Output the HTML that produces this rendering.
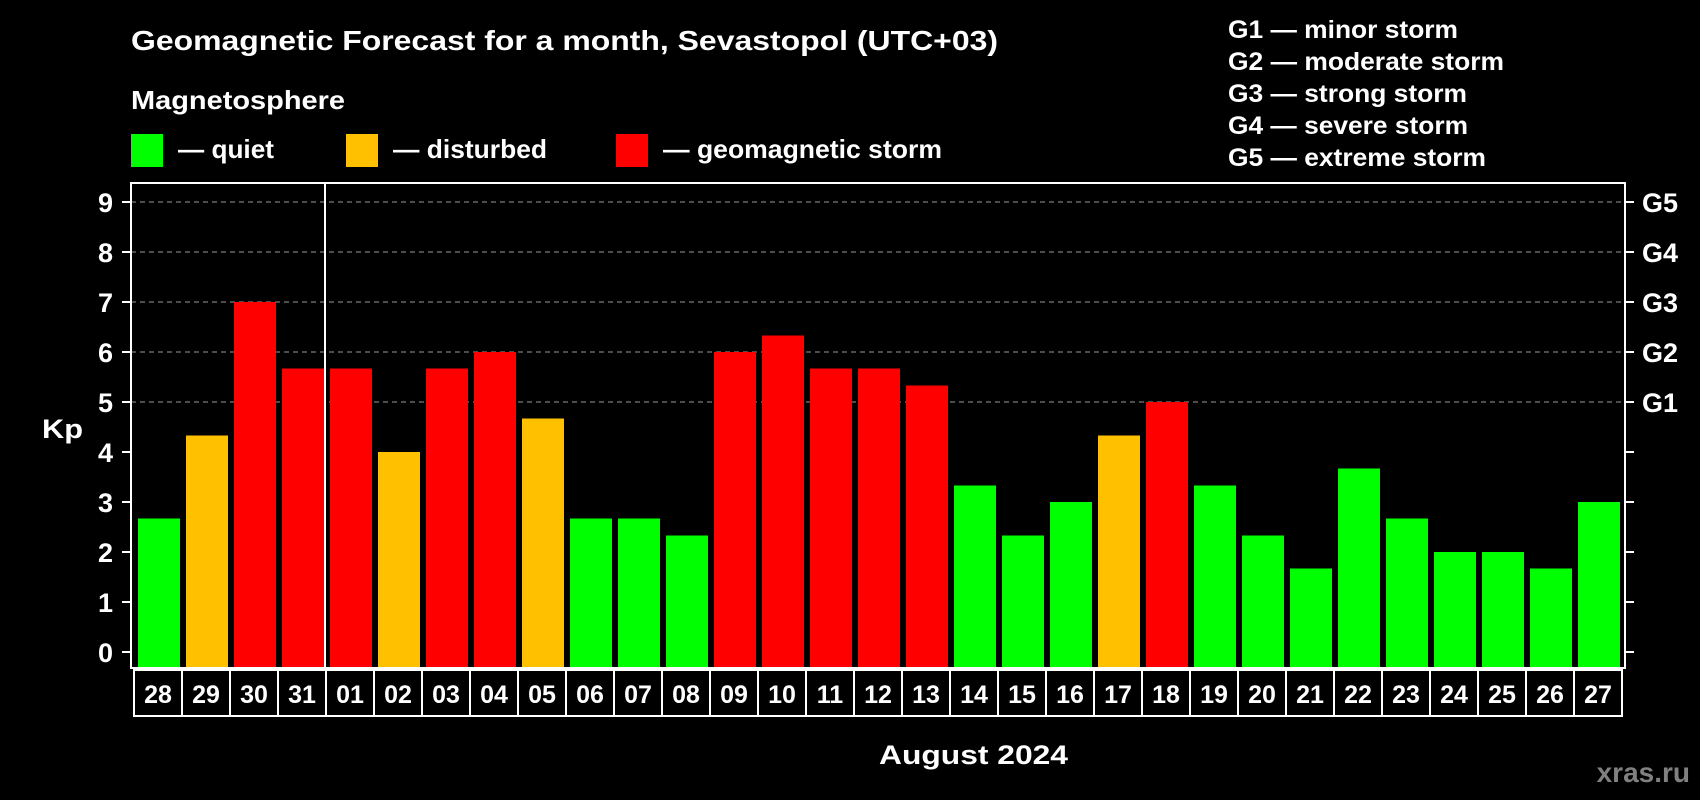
<!DOCTYPE html>
<html><head><meta charset="utf-8"><style>
html,body{margin:0;padding:0;background:#000;}
svg{display:block;font-family:"Liberation Sans",Arial,sans-serif;font-weight:bold;}
</style></head><body>
<svg id="chart" width="1700" height="800" viewBox="0 0 1700 800" xmlns="http://www.w3.org/2000/svg">
<rect x="0" y="0" width="1700" height="800" fill="#000"/>
<text x="131" y="50" font-size="28" fill="#fff" textLength="867" lengthAdjust="spacingAndGlyphs">Geomagnetic Forecast for a month, Sevastopol (UTC+03)</text>
<text x="131" y="109" font-size="26" fill="#fff" textLength="214" lengthAdjust="spacingAndGlyphs">Magnetosphere</text>
<g>
<rect x="131" y="134" width="32" height="33" fill="#00ff00"/>
<text x="178" y="158" font-size="26" fill="#fff" textLength="96" lengthAdjust="spacingAndGlyphs">— quiet</text>
</g>
<g>
<rect x="346" y="134" width="32" height="33" fill="#ffc000"/>
<text x="393" y="158" font-size="26" fill="#fff" textLength="154" lengthAdjust="spacingAndGlyphs">— disturbed</text>
</g>
<g>
<rect x="616" y="134" width="32" height="33" fill="#ff0000"/>
<text x="663" y="158" font-size="26" fill="#fff" textLength="279" lengthAdjust="spacingAndGlyphs">— geomagnetic storm</text>
</g>
<g>
<text x="1228" y="38" font-size="25" fill="#fff" textLength="230" lengthAdjust="spacingAndGlyphs">G1 — minor storm</text>
<text x="1228" y="70" font-size="25" fill="#fff" textLength="276" lengthAdjust="spacingAndGlyphs">G2 — moderate storm</text>
<text x="1228" y="102" font-size="25" fill="#fff" textLength="239" lengthAdjust="spacingAndGlyphs">G3 — strong storm</text>
<text x="1228" y="134" font-size="25" fill="#fff" textLength="240" lengthAdjust="spacingAndGlyphs">G4 — severe storm</text>
<text x="1228" y="166" font-size="25" fill="#fff" textLength="258" lengthAdjust="spacingAndGlyphs">G5 — extreme storm</text>
</g>
<text x="42" y="438" font-size="27" fill="#fff" textLength="41" lengthAdjust="spacingAndGlyphs">Kp</text>
<text x="879" y="764" font-size="27" fill="#fff" textLength="189" lengthAdjust="spacingAndGlyphs">August 2024</text>
<text x="1690" y="782" font-size="28" fill="#808080" text-anchor="end">xras.ru</text>
<g id="grid"></g>
<g id="bars"></g>
<g id="axes"></g>
<g id="xlabels"></g>
</svg>
<script>
const days = ["28","29","30","31","01","02","03","04","05","06","07","08","09","10","11","12","13","14","15","16","17","18","19","20","21","22","23","24","25","26","27"];
const kpValues = [2.67,4.33,7,5.67,5.67,4,5.67,6,4.67,2.67,2.67,2.33,6,6.33,5.67,5.67,5.33,3.33,2.33,3,4.33,5,3.33,2.33,1.67,3.67,2.67,2,2,1.67,3];
const yTicks = [0,1,2,3,4,5,6,7,8,9];
const gridTicks = [5,6,7,8,9];
const gLabels = ["G1","G2","G3","G4","G5"];
const monthStartIndex = 4;

const NS = "http://www.w3.org/2000/svg";
const plotL = 131, plotR = 1625, plotT = 183, plotB = 668;
const y0 = 652, yUnit = 50;
const pitch = 48, barOff = 7, barW = 42, cellL = 134;
function yScale(v){ return y0 - v * yUnit; }
function xCell(i){ return cellL + i * pitch; }
function mk(tag, attrs, parent){ const e = document.createElementNS(NS, tag); for (const k in attrs) e.setAttribute(k, attrs[k]); parent.appendChild(e); return e; }
function color(v){ return v >= 5 ? "#ff0000" : (v >= 4 ? "#ffc000" : "#00ff00"); }

const grid = document.getElementById("grid");
gridTicks.forEach(function(t){
  const l = mk("line", {x1: plotL, x2: plotR, y1: yScale(t), y2: yScale(t), stroke: "#999", "stroke-width": 1, "stroke-dasharray": "5,4"}, grid);
  
  
});

const bars = document.getElementById("bars");
kpValues.forEach(function(v, i){
  const r = mk("rect", {x: xCell(i) + 4, y: yScale(v), width: barW, height: plotB - yScale(v), fill: color(v)}, bars);
  
  
});

const axes = document.getElementById("axes");
const frame = mk("rect", {x: plotL, y: plotT, width: plotR - plotL, height: plotB - plotT, fill: "none", stroke: "#fff", "stroke-width": 2}, axes);


const div = mk("line", {x1: xCell(monthStartIndex) - 1, x2: xCell(monthStartIndex) - 1, y1: plotT, y2: plotB, stroke: "#fff", "stroke-width": 2}, axes);


yTicks.forEach(function(t){
  const y = yScale(t);
  const tl = mk("line", {x1: 122, x2: plotL, y1: y, y2: y, stroke: "#fff", "stroke-width": 2}, axes);
  
  
  const tr = mk("line", {x1: plotR, x2: 1634, y1: y, y2: y, stroke: "#fff", "stroke-width": 2}, axes);
  
  
  const tx = mk("text", {x: 113, y: y + 10, "font-size": 27, fill: "#fff", "text-anchor": "end"}, axes);
  tx.textContent = String(t);
  
  
});
gLabels.forEach(function(g, i){
  const tx = mk("text", {x: 1642, y: yScale(gridTicks[i]) + 10, "font-size": 27, fill: "#fff"}, axes);
  tx.textContent = g;
  
  
});

const xl = document.getElementById("xlabels");
days.forEach(function(d, i){
  const c = mk("rect", {x: xCell(i), y: 670, width: pitch, height: 46, fill: "none", stroke: "#fff", "stroke-width": 2}, xl);
  
  
  const t = mk("text", {x: xCell(i) + pitch / 2, y: 703, "font-size": 25, fill: "#fff", "text-anchor": "middle"}, xl);
  t.textContent = d;
  
  
});
</script>
</body></html>
